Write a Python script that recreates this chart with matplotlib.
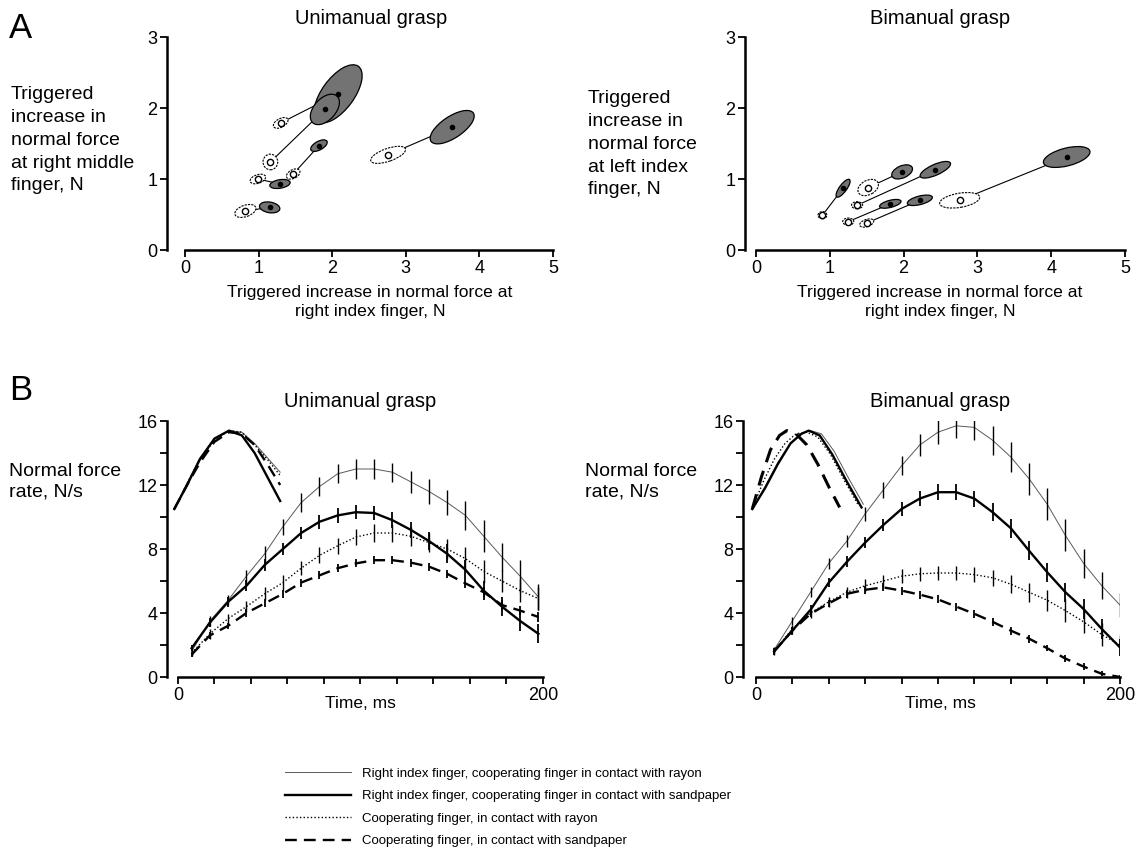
import matplotlib
matplotlib.use("Agg")
import matplotlib.pyplot as plt
from matplotlib.patches import Ellipse
from matplotlib.lines import Line2D

plt.rcParams["font.family"] = ["Liberation Sans", "DejaVu Sans"]

W, H = 1142, 863

# ---- A: triggered force increases, (start -> end) per subject ----
uni_start_x = [1.30, 1.16, 0.99, 1.47, 0.82, 2.76]
uni_start_y = [1.79, 1.24, 1.00, 1.07, 0.55, 1.34]
uni_end_x = [2.08, 1.90, 1.29, 1.82, 1.15, 3.63]
uni_end_y = [2.20, 1.98, 0.93, 1.47, 0.60, 1.73]
uni_start_ell = [(0.22, 0.12, 30), (0.20, 0.22, 0), (0.22, 0.12, 20),
                 (0.20, 0.12, 30), (0.30, 0.16, 20), (0.50, 0.18, 20)]
uni_end_ell = [(0.95, 0.44, 55), (0.50, 0.30, 50), (0.28, 0.12, 10),
               (0.25, 0.12, 30), (0.28, 0.15, -10), (0.70, 0.30, 35)]

bi_start_x = [0.90, 1.52, 1.37, 1.25, 1.50, 2.76]
bi_start_y = [0.49, 0.88, 0.63, 0.40, 0.38, 0.70]
bi_end_x = [1.18, 1.98, 2.43, 1.82, 2.22, 4.21]
bi_end_y = [0.87, 1.10, 1.13, 0.65, 0.70, 1.31]
bi_start_ell = [(0.12, 0.10, 0), (0.30, 0.20, 30), (0.15, 0.10, 0),
                (0.15, 0.10, 0), (0.20, 0.10, 20), (0.55, 0.20, 10)]
bi_end_ell = [(0.30, 0.10, 55), (0.30, 0.17, 25), (0.45, 0.15, 25),
              (0.30, 0.10, 15), (0.35, 0.12, 15), (0.65, 0.25, 15)]

# ---- B: normal force rate profiles ----
t_uni = [7.5, 17.5, 27.5, 37.5, 47.5, 57.5, 67.5, 77.5, 87.5, 97.5,
         107.5, 117.5, 127.5, 137.5, 147.5, 157.5, 167.5, 177.5, 187.5, 197.5]
uni_idx_rayon = [1.6, 3.5, 4.8, 6.3, 7.7, 9.4, 10.9, 11.9, 12.7, 13.0,
                 13.0, 12.8, 12.2, 11.6, 10.9, 10.1, 8.8, 7.5, 6.3, 5.0]
uni_idx_sand = [1.8, 3.4, 4.7, 5.7, 7.0, 8.0, 9.0, 9.7, 10.1, 10.3,
                10.25, 9.8, 9.2, 8.5, 7.7, 6.7, 5.4, 4.4, 3.5, 2.7]
uni_coop_rayon = [1.5, 2.7, 3.65, 4.4, 5.2, 5.9, 6.8, 7.6, 8.2, 8.75,
                  9.0, 9.0, 8.8, 8.4, 8.0, 7.4, 6.6, 6.0, 5.4, 4.9]
uni_coop_sand = [1.4, 2.6, 3.2, 4.0, 4.6, 5.2, 5.9, 6.35, 6.8, 7.1,
                 7.3, 7.3, 7.15, 6.9, 6.45, 5.85, 5.3, 4.5, 4.15, 3.75]
uni_idx_rayon_err = [0.2, 0.3, 0.3, 0.4, 0.5, 0.5, 0.6, 0.6, 0.6, 0.6,
                     0.6, 0.6, 0.7, 0.8, 0.8, 0.9, 1.0, 0.9, 1.0, 0.8]
uni_idx_sand_err = [0.2, 0.3, 0.3, 0.35, 0.4, 0.4, 0.4, 0.45, 0.45, 0.45,
                    0.45, 0.5, 0.5, 0.55, 0.6, 0.6, 0.6, 0.6, 0.6, 0.6]
uni_coop_rayon_err = [0.2, 0.3, 0.3, 0.35, 0.4, 0.45, 0.45, 0.5, 0.5, 0.5,
                      0.55, 0.55, 0.6, 0.6, 0.65, 0.7, 0.7, 0.7, 0.7, 0.7]
uni_coop_sand_err = [0.15, 0.2, 0.2, 0.25, 0.25, 0.25, 0.25, 0.25, 0.25, 0.25,
                     0.25, 0.25, 0.25, 0.25, 0.25, 0.3, 0.3, 0.3, 0.3, 0.3]

t_bi = [10, 20, 30, 40, 50, 60, 70, 80, 90, 100,
        110, 120, 130, 140, 150, 160, 170, 180, 190, 200]
bi_idx_rayon = [1.7, 3.5, 5.3, 7.1, 8.5, 10.2, 11.7, 13.2, 14.5, 15.3,
                15.7, 15.6, 14.8, 13.75, 12.4, 10.8, 8.85, 7.1, 5.7, 4.5]
bi_idx_sand = [1.6, 2.9, 4.2, 5.9, 7.2, 8.4, 9.5, 10.5, 11.15, 11.55,
               11.55, 11.15, 10.3, 9.3, 7.9, 6.55, 5.3, 4.25, 3.0, 1.85]
bi_coop_rayon = [1.6, 3.0, 4.0, 4.7, 5.3, 5.7, 6.0, 6.3, 6.45, 6.5,
                 6.5, 6.4, 6.2, 5.8, 5.3, 4.8, 4.15, 3.45, 2.65, 2.0]
bi_coop_sand = [1.6, 2.9, 3.95, 4.6, 5.2, 5.45, 5.6, 5.4, 5.15, 4.85,
                4.4, 3.95, 3.45, 2.9, 2.4, 1.8, 1.15, 0.65, 0.2, 0.0]
bi_idx_rayon_err = [0.2, 0.25, 0.3, 0.35, 0.4, 0.45, 0.5, 0.6, 0.7, 0.75,
                    0.75, 0.8, 0.9, 0.95, 1.0, 1.0, 1.0, 0.9, 0.85, 0.75]
bi_idx_sand_err = [0.2, 0.25, 0.3, 0.3, 0.35, 0.35, 0.4, 0.45, 0.45, 0.5,
                   0.5, 0.5, 0.55, 0.6, 0.6, 0.6, 0.6, 0.6, 0.6, 0.55]
bi_coop_rayon_err = [0.2, 0.25, 0.3, 0.3, 0.35, 0.4, 0.4, 0.45, 0.45, 0.45,
                     0.45, 0.45, 0.5, 0.55, 0.6, 0.65, 0.7, 0.7, 0.7, 0.6]
bi_coop_sand_err = [0.15, 0.2, 0.2, 0.2, 0.25, 0.25, 0.25, 0.25, 0.25, 0.25,
                    0.25, 0.25, 0.25, 0.25, 0.25, 0.2, 0.2, 0.2, 0.15, 0.1]

# normalised profiles shown top-left of each B panel
ins_uni_t = [-2, 5, 12, 20, 28, 35, 42, 49, 56]
ins_uni_idx_rayon = [10.5, 12.1, 13.7, 14.9, 15.4, 15.3, 14.6, 13.7, 12.8]
ins_uni_idx_sand = [10.5, 12.0, 13.6, 14.9, 15.4, 15.1, 14.0, 12.5, 11.0]
ins_uni_coop_rayon = [10.5, 12.1, 13.6, 14.8, 15.4, 15.3, 14.5, 13.6, 12.6]
ins_uni_coop_sand = [10.5, 12.0, 13.4, 14.7, 15.3, 15.2, 14.5, 13.3, 12.0]

ins_bi_t_rayon = [-2, 5, 12, 19, 25, 30, 36, 43, 51, 59]
ins_bi_idx_rayon = [10.5, 11.9, 13.4, 14.6, 15.2, 15.4, 15.2, 14.1, 12.4, 10.8]
ins_bi_t_sand = [-2, 5, 12, 19, 25, 29, 35, 42, 50, 58]
ins_bi_idx_sand = [10.5, 11.8, 13.3, 14.6, 15.2, 15.4, 15.1, 13.9, 12.2, 10.6]
ins_bi_t_coop_rayon = [-2, 4, 10, 16, 22, 28, 34, 41, 49, 56]
ins_bi_coop_rayon = [10.5, 12.2, 13.6, 14.6, 15.2, 15.3, 15.0, 13.9, 12.2, 10.8]
ins_bi_t_coop_sand = [-2, 3, 8, 13, 17, 22, 28, 34, 40, 46]
ins_bi_coop_sand = [10.5, 12.5, 14.2, 15.1, 15.4, 15.2, 14.5, 13.3, 11.9, 10.6]

labels = [
    "Right index finger, cooperating finger in contact with rayon",
    "Right index finger, cooperating finger in contact with sandpaper",
    "Cooperating finger, in contact with rayon",
    "Cooperating finger, in contact with sandpaper",
]

# line styles for the four conditions
st_idx_rayon = dict(color="0.35", lw=0.7, ls="-")
st_idx_sand = dict(color="black", lw=1.7, ls="-")
st_coop_rayon = dict(color="black", lw=1.0, ls=(0, (1, 1.6)))
st_coop_sand = dict(color="black", lw=1.7, ls=(0, (5, 3)))

TICK_FS = 13
LABEL_FS = 14


def px_axes(fig, x0, y0, x1, y1):
    return fig.add_axes([x0 / W, 1 - y1 / H, (x1 - x0) / W, (y1 - y0) / H])


def style_axes(ax, xb, yb):
    ax.spines["top"].set_visible(False)
    ax.spines["right"].set_visible(False)
    ax.spines["left"].set_bounds(*yb)
    ax.spines["bottom"].set_bounds(*xb)
    for s in ("left", "bottom"):
        ax.spines[s].set_linewidth(1.8)
    ax.tick_params(which="both", width=1.3, labelsize=TICK_FS, pad=2, length=5)
    ax.patch.set_alpha(0)


def draw_pairs(ax, sx, sy, ex, ey, s_ell, e_ell):
    for i in range(len(sx)):
        ax.plot([sx[i], ex[i]], [sy[i], ey[i]], color="black", lw=0.8, zorder=2)
        w, h, a = e_ell[i]
        ax.add_patch(Ellipse((ex[i], ey[i]), w, h, angle=a, facecolor="0.45",
                             edgecolor="black", lw=0.9, zorder=3))
        ax.plot(ex[i], ey[i], "o", ms=3, color="black", zorder=4)
        w, h, a = s_ell[i]
        ax.add_patch(Ellipse((sx[i], sy[i]), w, h, angle=a, facecolor="white",
                             edgecolor="black", lw=0.8, ls=(0, (2, 1)), zorder=3))
        ax.plot(sx[i], sy[i], "o", ms=4.5, mfc="white", mec="black", mew=1.0, zorder=4)


def draw_profiles(ax, t, series):
    for y, err, st in series:
        ax.plot(t, y, **st, zorder=3)
        ax.errorbar(t, y, yerr=err, fmt="none", ecolor="black",
                    elinewidth=1.3 if st["lw"] > 1.2 else 1.0, capsize=0, zorder=3)


def setup_rate_axes(ax, x_left):
    ax.set_xlim(x_left, 200)
    ax.set_ylim(0, 16)
    style_axes(ax, (0, 200), (0, 16))
    ax.set_xticks([0, 200])
    ax.set_xticks(range(20, 200, 20), minor=True)
    ax.set_yticks([0, 4, 8, 12, 16])
    ax.set_yticks([2, 6, 10, 14], minor=True)


fig = plt.figure(figsize=(W / 100, H / 100), dpi=100)

# A left
ax1 = px_axes(fig, 167, 37, 553, 250)
ax1.set_xlim(-0.245, 5)
ax1.set_ylim(0, 3)
style_axes(ax1, (0, 5), (0, 3))
ax1.set_xticks([0, 1, 2, 3, 4, 5])
ax1.set_yticks([0, 1, 2, 3])
draw_pairs(ax1, uni_start_x, uni_start_y, uni_end_x, uni_end_y, uni_start_ell, uni_end_ell)

# A right
ax2 = px_axes(fig, 745, 37, 1125, 250)
ax2.set_xlim(-0.149, 5)
ax2.set_ylim(0, 3)
style_axes(ax2, (0, 5), (0, 3))
ax2.set_xticks([0, 1, 2, 3, 4, 5])
ax2.set_yticks([0, 1, 2, 3])
draw_pairs(ax2, bi_start_x, bi_start_y, bi_end_x, bi_end_y, bi_start_ell, bi_end_ell)

# B left
ax3 = px_axes(fig, 167, 421, 543, 677)
setup_rate_axes(ax3, -6)
draw_profiles(ax3, t_uni, [
    (uni_idx_rayon, uni_idx_rayon_err, st_idx_rayon),
    (uni_idx_sand, uni_idx_sand_err, st_idx_sand),
    (uni_coop_rayon, uni_coop_rayon_err, st_coop_rayon),
    (uni_coop_sand, uni_coop_sand_err, st_coop_sand),
])
ax3.plot(ins_uni_t, ins_uni_idx_rayon, **st_idx_rayon)
ax3.plot(ins_uni_t, ins_uni_idx_sand, **st_idx_sand)
ax3.plot(ins_uni_t, ins_uni_coop_rayon, **st_coop_rayon)
ax3.plot(ins_uni_t, ins_uni_coop_sand, **st_coop_sand)

# B right
ax4 = px_axes(fig, 743, 421, 1120, 677)
setup_rate_axes(ax4, -7.1)
draw_profiles(ax4, t_bi, [
    (bi_idx_rayon, bi_idx_rayon_err, st_idx_rayon),
    (bi_idx_sand, bi_idx_sand_err, st_idx_sand),
    (bi_coop_rayon, bi_coop_rayon_err, st_coop_rayon),
    (bi_coop_sand, bi_coop_sand_err, st_coop_sand),
])
ax4.plot(ins_bi_t_rayon, ins_bi_idx_rayon, **st_idx_rayon)
ax4.plot(ins_bi_t_sand, ins_bi_idx_sand, **st_idx_sand)
ax4.plot(ins_bi_t_coop_rayon, ins_bi_coop_rayon, **st_coop_rayon)
ax4.plot(ins_bi_t_coop_sand, ins_bi_coop_sand, **dict(st_coop_sand, lw=2.2))


# titles, panel letters and axis texts
def ftext(x, y, s, **kw):
    fig.text(x / W, 1 - y / H, s, **kw)


ftext(371, 18, "Unimanual grasp", fontsize=14.5, ha="center", va="center")
ftext(940, 18, "Bimanual grasp", fontsize=14.5, ha="center", va="center")
ftext(360, 401, "Unimanual grasp", fontsize=14.5, ha="center", va="center")
ftext(940, 401, "Bimanual grasp", fontsize=14.5, ha="center", va="center")
ftext(9, 28, "A", fontsize=25, va="center")
ftext(9, 390, "B", fontsize=25, va="center")

ftext(11, 86, "Triggered\nincrease in\nnormal force\nat right middle\nfinger, N",
      fontsize=LABEL_FS, va="top", linespacing=1.45)
ftext(588, 90, "Triggered\nincrease in\nnormal force\nat left index\nfinger, N",
      fontsize=LABEL_FS, va="top", linespacing=1.45)
ftext(9, 463, "Normal force\nrate, N/s", fontsize=LABEL_FS, va="top", linespacing=1.3)
ftext(585, 463, "Normal force\nrate, N/s", fontsize=LABEL_FS, va="top", linespacing=1.3)

ftext(370, 302, "Triggered increase in normal force at\nright index finger, N",
      fontsize=12.6, ha="center", va="center", linespacing=1.38)
ftext(940, 302, "Triggered increase in normal force at\nright index finger, N",
      fontsize=12.6, ha="center", va="center", linespacing=1.38)
ftext(360, 704, "Time, ms", fontsize=12.5, ha="center", va="center")
ftext(940, 704, "Time, ms", fontsize=12.5, ha="center", va="center")

handles = [Line2D([], [], **st_idx_rayon), Line2D([], [], **st_idx_sand),
           Line2D([], [], **st_coop_rayon), Line2D([], [], **st_coop_sand)]
fig.legend(handles, labels, loc="upper left", bbox_to_anchor=(278 / W, 1 - 761 / H),
           frameon=False, fontsize=9.5, handlelength=5.0, handletextpad=0.9,
           labelspacing=0.78, borderpad=0)

fig.savefig("out.png", dpi=100)
